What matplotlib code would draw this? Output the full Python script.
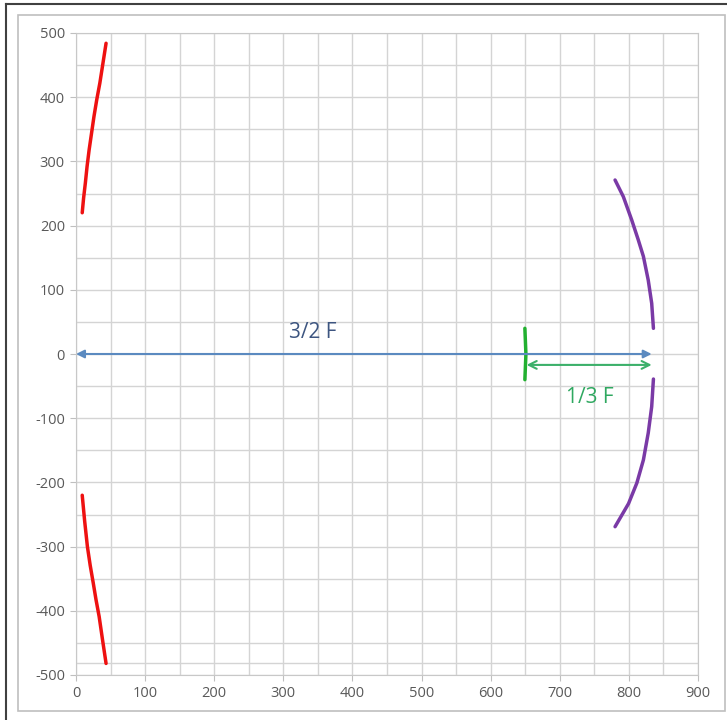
import matplotlib
matplotlib.use("Agg")
import matplotlib.pyplot as plt
from matplotlib.lines import Line2D
from matplotlib.patches import Rectangle

plt.rcParams['font.family'] = ['Open Sans', 'DejaVu Sans']
plt.rcParams['axes.unicode_minus'] = False

# red mirror arcs (left side)
red_top_x = [9, 11, 13.5, 16, 19, 22.5, 26, 30, 34.5, 39, 43.5]
red_top_y = [220, 243, 266, 292, 318, 344, 370, 396, 422, 453, 484]
red_bot_x = [9, 12.5, 16.5, 20.5, 25, 29, 33.5, 38.5, 43.5]
red_bot_y = [-220, -260, -300, -329, -357, -383, -409, -446, -482]

# purple arcs (right side)
purple_top_x = [780, 792, 804, 813.5, 821, 828, 833, 835.5]
purple_top_y = [271, 245, 209, 178, 152, 115, 79, 40]
purple_bot_x = [835.5, 833, 828, 821, 811.5, 799.5, 780]
purple_bot_y = [-39, -82, -123, -165, -201, -233, -269]

# green image line
green_x = [649.5, 651, 649.5]
green_y = [40, 0, -40]

# dimension arrows
blue_arrow = [(0, 0), (833, 0)]
green_arrow = [(652, -17), (833, -17)]
blue_label = "3/2 F"
green_label = "1/3 F"

xticks = list(range(0, 901, 100))
yticks = list(range(-500, 501, 100))

fig = plt.figure(figsize=(7.27, 7.2), dpi=100)
ax = fig.add_axes([76 / 727, 1 - 675 / 720, 622 / 727, 642 / 720])

# frames around chart
fig.patches.append(Rectangle((18 / 727, 1 - 711 / 720), 707 / 727, 696 / 720,
                             transform=fig.transFigure, fill=False,
                             edgecolor='#bfbfbf', lw=1.2))
fig.lines.append(Line2D([6 / 727, 6 / 727], [0, 1 - 4 / 720],
                        transform=fig.transFigure, color='#404040', lw=1.5))
fig.lines.append(Line2D([6 / 727, 1], [1 - 4 / 720, 1 - 4 / 720],
                        transform=fig.transFigure, color='#404040', lw=1.5))

ax.set_xlim(0, 900)
ax.set_ylim(-500, 500)
ax.set_xticks(xticks)
ax.set_yticks(yticks)
ax.set_xticks(range(50, 900, 100), minor=True)
ax.set_yticks(range(-450, 500, 100), minor=True)
ax.grid(True, which='both', color='#d4d4d4', lw=1)
ax.axhline(-481, color='#d4d4d4', lw=1)
ax.set_axisbelow(True)
for s in ax.spines.values():
    s.set_color('#c8c8c8')
ax.tick_params(which='major', length=4, color='#bfbfbf', labelcolor='#595959',
               labelsize=10.5, pad=4)
ax.tick_params(which='minor', length=0)

for xs, ys in [(red_top_x, red_top_y), (red_bot_x, red_bot_y)]:
    ax.plot(xs, ys, color='#ee1111', lw=2.5,
            solid_capstyle='round', solid_joinstyle='round')
for xs, ys in [(purple_top_x, purple_top_y), (purple_bot_x, purple_bot_y)]:
    ax.plot(xs, ys, color='#7a3aa6', lw=2.5,
            solid_capstyle='round', solid_joinstyle='round')
ax.plot(green_x, green_y, color='#22b030', lw=2.5,
        solid_capstyle='round', solid_joinstyle='round')

ax.annotate('', xy=blue_arrow[0], xytext=blue_arrow[1],
            arrowprops=dict(arrowstyle='<|-|>', color='#5b8ac0', lw=1.5,
                            mutation_scale=12, shrinkA=0, shrinkB=0))
ax.annotate('', xy=green_arrow[0], xytext=green_arrow[1],
            arrowprops=dict(arrowstyle='<->', color='#3cb06a', lw=1.5,
                            mutation_scale=14, shrinkA=0, shrinkB=0))

ax.text(343, 33, blue_label, color='#3d5580', fontsize=15, ha='center', va='center')
ax.text(744, -67, green_label, color='#2fa860', fontsize=15, ha='center', va='center')

fig.savefig('out.png', dpi=100)
